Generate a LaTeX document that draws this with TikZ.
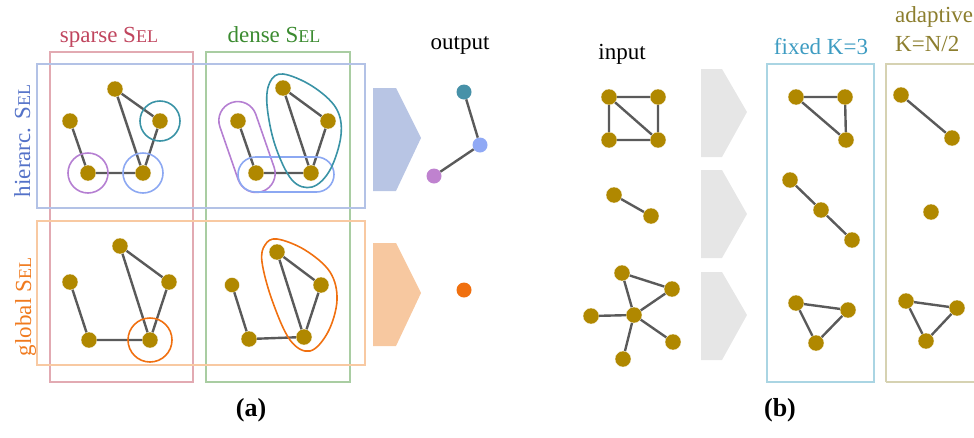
\documentclass[tikz,border=0pt]{standalone}
\usepackage{fontspec}
\setmainfont{Liberation Serif}
\newcommand{\selsc}{S{\fontsize{18}{20}\selectfont EL}}
\definecolor{gold}{HTML}{B08800}
\definecolor{edgegray}{HTML}{5A5A5A}
\definecolor{redbox}{HTML}{E2AAB2}
\definecolor{redtxt}{HTML}{C0455E}
\definecolor{greenbox}{HTML}{A9CDA2}
\definecolor{greentxt}{HTML}{3B8B30}
\definecolor{bluebox}{HTML}{B3C2E6}
\definecolor{bluetxt}{HTML}{5472C8}
\definecolor{orangebox}{HTML}{F8C9A2}
\definecolor{orangetxt}{HTML}{F07A1E}
\definecolor{tealc}{HTML}{3A93A6}
\definecolor{purplec}{HTML}{B57FD2}
\definecolor{lbluec}{HTML}{8CA8F2}
\definecolor{orangec}{HTML}{F07010}
\definecolor{arrowblue}{HTML}{B8C5E4}
\definecolor{arroworange}{HTML}{F7C8A0}
\definecolor{arrowgray}{HTML}{E6E6E6}
\definecolor{fixbox}{HTML}{AAD5E3}
\definecolor{fixtxt}{HTML}{3E9CC2}
\definecolor{adabox}{HTML}{D6D2B2}
\definecolor{adatxt}{HTML}{8C7E2E}
\definecolor{outteal}{HTML}{4791A8}
\definecolor{outblue}{HTML}{90A9F5}
\definecolor{outpurple}{HTML}{BF82CF}
\definecolor{outorange}{HTML}{F0700F}
\begin{document}
\begin{tikzpicture}[x=1pt,y=-1pt,
  gn/.style={circle,fill=gold,draw=white,line width=0.3pt,inner sep=0pt,minimum size=16pt},
  od/.style={circle,inner sep=0pt,minimum size=15pt},
  ed/.style={draw=edgegray,line width=2.4pt},
  frame/.style={line width=1.7pt},
  ring/.style={line width=1.6pt},
  lab/.style={font=\fontsize{23}{27}\selectfont,anchor=base,inner sep=0pt},
  capt/.style={font=\fontsize{26}{30}\selectfont\bfseries,inner sep=0pt}
]
\useasboundingbox (0,0) rectangle (974,437);

% ---------- panel (a) frames ----------
\draw[frame,redbox] (50,52) rectangle (193,382);
\draw[frame,greenbox] (206,52) rectangle (350,382);
\draw[frame,bluebox] (37,64) rectangle (365,208);
\draw[frame,orangebox] (37,221) rectangle (365,365);

\node[lab,text=redtxt] (lsparse) at (109,42) {sparse \selsc};
\node[lab,text=greentxt] (ldense) at (274,42) {dense \selsc};
\node[lab,text=bluetxt,rotate=90] (lhier) at (30,141) {hierarc. \selsc};
\node[lab,text=orangetxt,rotate=90] (lglob) at (31,307) {global \selsc};

% ---------- sparse hierarchical ----------
\node[gn] (sa) at (115,89) {};
\node[gn] (sb) at (70,121) {};
\node[gn] (sc) at (160,121) {};
\node[gn] (sd) at (88,173) {};
\node[gn] (se) at (143,173) {};
\draw[ed] (sb) -- (sd) (sd) -- (se) (sa) -- (se) (sa) -- (sc) (sc) -- (se);
\draw[ring,tealc] (sc) circle[radius=20pt];
\draw[ring,purplec] (sd) circle[radius=20pt];
\draw[ring,lbluec] (se) circle[radius=20pt];

% ---------- dense hierarchical ----------
\node[gn] (da) at (283,88) {};
\node[gn] (db) at (238,121) {};
\node[gn] (dc) at (328,121) {};
\node[gn] (dd) at (256,173) {};
\node[gn] (de) at (311,173) {};
\draw[ed] (db) -- (dd) (dd) -- (de) (da) -- (de) (da) -- (dc) (dc) -- (de);
\node[ring,draw=purplec,rectangle,rounded corners=19pt,minimum width=94pt,minimum height=38pt,rotate=-70.9] (pcap) at (247,147) {};
\node[ring,draw=lbluec,rectangle,rounded corners=17.5pt,minimum width=96pt,minimum height=35pt] (bcap) at (286,174.5) {};
\draw[ring,tealc] plot[smooth cycle,tension=0.6] coordinates {(283,74) (312,86) (336,108) (341,135) (330,170) (312,187) (292,180) (275,145) (267,105) (270,82)};

% ---------- sparse global ----------
\node[gn] (ga) at (120,246) {};
\node[gn] (gb) at (70,282) {};
\node[gn] (gc) at (169,282) {};
\node[gn] (gd) at (89,340) {};
\node[gn] (ge) at (150,340) {};
\draw[ed] (gb) -- (gd) (gd) -- (ge) (ga) -- (ge) (ga) -- (gc) (gc) -- (ge);
\draw[ring,orangec] (ge) circle[radius=22pt];

% ---------- dense global ----------
\node[gn] (ha) at (277,252) {};
\node[gn,minimum size=15pt] (hb) at (232,285) {};
\node[gn] (hc) at (321,285) {};
\node[gn] (hd) at (249,339) {};
\node[gn] (he) at (304,337) {};
\draw[ed] (hb) -- (hd) (hd) -- (he) (ha) -- (he) (ha) -- (hc) (hc) -- (he);
\draw[ring,orangec] plot[smooth cycle,tension=0.6] coordinates {(277,239) (305,250) (330,272) (337,300) (328,332) (310,351) (290,340) (272,300) (262,262) (265,245)};

% ---------- arrows (a) ----------
\fill[arrowblue] (373,88) -- (396,88) -- (421,138) -- (396,191) -- (373,191) -- cycle;
\fill[arroworange] (373,243) -- (396,243) -- (421,293) -- (396,346) -- (373,346) -- cycle;

% ---------- output ----------
\node[lab] (lout) at (460,49) {output};
\node[od,fill=outteal] (ot) at (464,92) {};
\node[od,fill=outblue] (ob) at (480,145) {};
\node[od,fill=outpurple] (op) at (434,176) {};
\draw[ed] (ot) -- (ob) (ob) -- (op);
\node[od,fill=outorange] (oo) at (464,290) {};

\node[capt] (capa) at (251,410) {(a)};

% ---------- panel (b) ----------
\node[lab] (lin) at (622,59) {input};
\node[lab,text=fixtxt] (lfix) at (821,54) {fixed K=3};
\node[lab,text=adatxt,anchor=base west] (lada) at (895,22) {adaptive};
\node[lab,text=adatxt,anchor=base west] (ladk) at (895,51) {K=N/2};

\draw[frame,fixbox] (767,64) rectangle (874,382);
\draw[frame,adabox] (886,382) -- (886,64) -- (980,64);
\draw[frame,adabox] (886,382) -- (980,382);

\fill[arrowgray] (701,69) -- (722,69) -- (747,112) -- (722,157) -- (701,157) -- cycle;
\fill[arrowgray] (701,170) -- (722,170) -- (747,214) -- (722,258) -- (701,258) -- cycle;
\fill[arrowgray] (701,272) -- (722,272) -- (747,315) -- (722,360) -- (701,360) -- cycle;

% input graphs
\node[gn] (i1a) at (609,97) {};
\node[gn] (i1b) at (658,97) {};
\node[gn] (i1c) at (609,140) {};
\node[gn] (i1d) at (658,140) {};
\draw[ed] (i1a) -- (i1b) (i1b) -- (i1d) (i1d) -- (i1c) (i1c) -- (i1a) (i1a) -- (i1d);

\node[gn] (i2a) at (614,195) {};
\node[gn] (i2b) at (651,216) {};
\draw[ed] (i2a) -- (i2b);

\node[gn] (i3a) at (622,273) {};
\node[gn] (i3b) at (672,289) {};
\node[gn] (i3c) at (634,315) {};
\node[gn] (i3d) at (591,316) {};
\node[gn] (i3e) at (673,342) {};
\node[gn] (i3f) at (623,359) {};
\draw[ed] (i3a) -- (i3b) (i3a) -- (i3c) (i3b) -- (i3c) (i3c) -- (i3d) (i3c) -- (i3e) (i3c) -- (i3f);

% fixed K=3
\node[gn] (f1a) at (796,97) {};
\node[gn] (f1b) at (845,97) {};
\node[gn] (f1c) at (846,140) {};
\draw[ed] (f1a) -- (f1b) (f1b) -- (f1c) (f1a) -- (f1c);

\node[gn] (f2a) at (790,180) {};
\node[gn] (f2b) at (821,210) {};
\node[gn] (f2c) at (852,240) {};
\draw[ed] (f2a) -- (f2b) (f2b) -- (f2c);

\node[gn] (f3a) at (796,303) {};
\node[gn] (f3b) at (848,310) {};
\node[gn] (f3c) at (816,343) {};
\draw[ed] (f3a) -- (f3b) (f3b) -- (f3c) (f3c) -- (f3a);

% adaptive
\node[gn] (a1a) at (901,95) {};
\node[gn] (a1b) at (952,138) {};
\draw[ed] (a1a) -- (a1b);

\node[gn] (a2a) at (931,212) {};

\node[gn] (a3a) at (906,301) {};
\node[gn] (a3b) at (957,308) {};
\node[gn] (a3c) at (926,341) {};
\draw[ed] (a3a) -- (a3b) (a3b) -- (a3c) (a3c) -- (a3a);

\node[capt] (capb) at (780,410) {(b)};
\end{tikzpicture}
\end{document}
